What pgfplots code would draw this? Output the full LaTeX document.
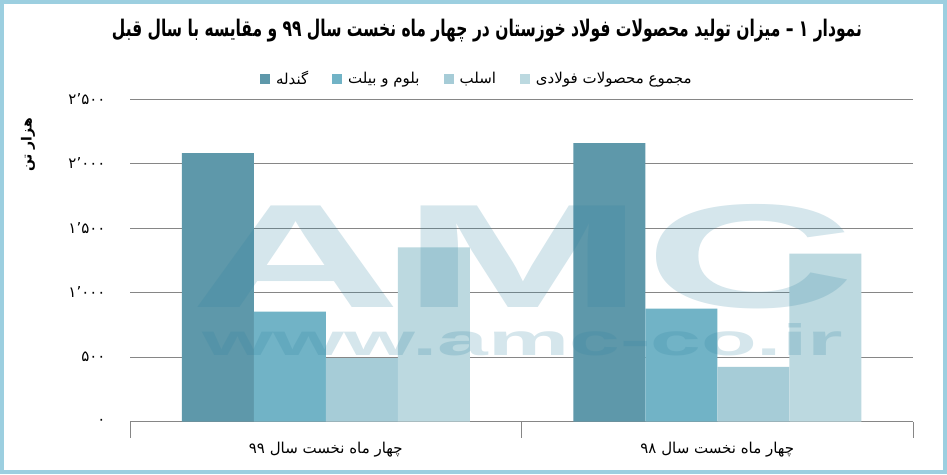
\documentclass[border=0pt]{standalone}
\usepackage{fontspec}
\usepackage{pgfplots}
\pgfplotsset{compat=1.18}
\TeXXeTstate=1
\setmainfont{DejaVu Sans}
\newfontfamily\arabicfont[Script=Arabic]{DejaVu Sans}
\newfontfamily\wmfont{Liberation Sans}
\definecolor{cA}{HTML}{5E98AA}
\definecolor{cB}{HTML}{71B3C6}
\definecolor{cC}{HTML}{A6CCD7}
\definecolor{cD}{HTML}{BCD9E0}
\definecolor{gridgray}{HTML}{868686}
\definecolor{framec}{HTML}{9CCFE0}
\definecolor{wm}{RGB}{45,130,160}
\begin{document}
\begin{tikzpicture}[x=1pt,y=1pt]
\useasboundingbox (0,0) rectangle (947,474);
\fill[white] (0,0) rectangle (947,474);
\begin{axis}[
  at={(130pt,52.5pt)}, anchor=south west,
  scale only axis, width=783pt, height=322.5pt,
  ymin=0, ymax=2500, xmin=-0.5, xmax=1.5,
  ybar=0pt, bar width=72pt,
  axis x line*=bottom, axis y line*=left,
  y axis line style={draw=none},
  x axis line style={draw=gridgray, line width=0.9pt},
  ytick={0,500,1000,1500,2000,2500},
  yticklabels={۰,۵۰۰,۱٬۰۰۰,۱٬۵۰۰,۲٬۰۰۰,۲٬۵۰۰},
  yticklabel style={font=\arabicfont\fontsize{15}{17}\selectfont, xshift=-5pt},
  ytick style={draw=none},
  ymajorgrids, grid style={draw=gridgray, line width=0.9pt},
  xtick={-0.5,0.5,1.5}, xticklabels={,,},
  tick align=outside, major tick length=16pt,
  xtick style={draw=gridgray, line width=0.9pt},
  extra x ticks={0,1},
  extra x tick labels={{\beginR چهار ماه نخست سال \beginL۹۹\endL\endR},{\beginR چهار ماه نخست سال \beginL۹۸\endL\endR}},
  extra x tick style={major tick length=0pt, xticklabel style={font=\arabicfont\fontsize{15}{17}\selectfont, yshift=-17pt}},
  legend style={at={(0.443,1.062)}, anchor=center, draw=none, fill=none,
    legend columns=4, font=\arabicfont\fontsize{15}{17}\selectfont,
    /tikz/every odd column/.append style={column sep=4pt},
    /tikz/every even column/.append style={column sep=22pt}},
  legend image code/.code={\fill[#1] (0pt,-5pt) rectangle (10pt,5pt);},
  clip=false,
]
\addplot[fill=cA, draw=none] coordinates {(0,2080) (1,2158)};
\addlegendentry{\beginR گندله\endR}
\addplot[fill=cB, draw=none] coordinates {(0,851) (1,875)};
\addlegendentry{\beginR بلوم و بیلت\endR}
\addplot[fill=cC, draw=none] coordinates {(0,492) (1,424)};
\addlegendentry{\beginR اسلب\endR}
\addplot[fill=cD, draw=none] coordinates {(0,1349) (1,1302)};
\addlegendentry{\beginR مجموع محصولات فولادی\endR}
\end{axis}
% watermark
\node[text=wm, text opacity=0.2, inner sep=0pt, anchor=base] at (523,166) {\resizebox{665pt}{103pt}{\wmfont\bfseries AMC}};
\node[text=wm, text opacity=0.2, inner sep=0pt, anchor=base] at (523,118) {\resizebox{640pt}{32pt}{\wmfont\bfseries www.amc-co.ir}};
% title
\node[inner sep=0pt] at (487,443) {\resizebox*{750pt}{23pt}{\arabicfont\bfseries\fontsize{18}{20}\selectfont\beginR نمودار ۱ – میزان تولید محصولات فولاد خوزستان در چهار ماه نخست سال ۹۹ و مقایسه با سال قبل\endR}};
% y label
\node[rotate=90, inner sep=0pt] at (28,329) {\arabicfont\bfseries\fontsize{14}{16}\selectfont\beginR هزار تن\endR};
% frame
\draw[framec, line width=4pt] (2,2) rectangle (945,472);
\end{tikzpicture}
\end{document}
